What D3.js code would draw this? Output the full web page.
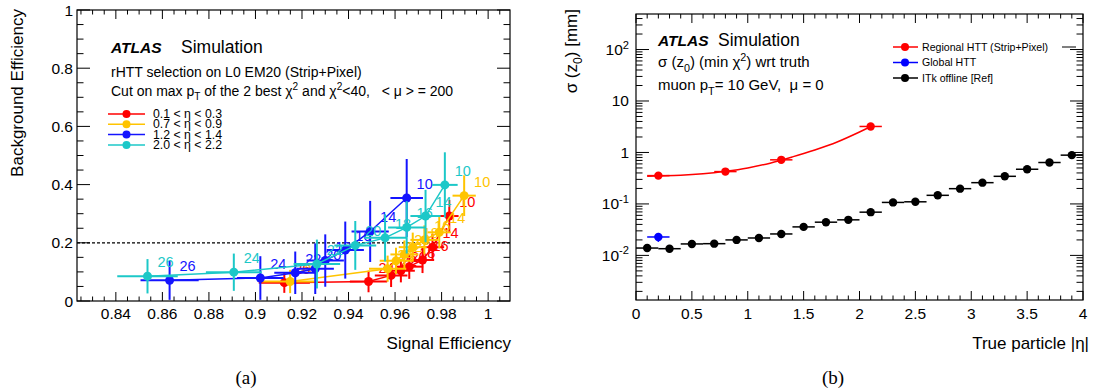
<!DOCTYPE html>
<html>
<head>
<meta charset="utf-8">
<script src="https://cdn.jsdelivr.net/npm/d3@7"></script>
<style>
  body { margin: 0; background: #fff; }
  svg { display: block; font-family: "Liberation Sans", Arial, Helvetica, sans-serif; }
  text { white-space: pre; }
</style>
</head>
<body>
<svg id="chart" width="1097" height="391"></svg>
<script>
// ---- panel (a): background vs signal efficiency, one point per chi2 cut ----
const chi2Cuts = [10, 14, 16, 18, 20, 22, 24, 26];
const etaBinLabels = ["0.1 < η < 0.3", "0.7 < η < 0.9", "1.2 < η < 1.4", "2.0 < η < 2.2"];

const sigEffRed = [0.9833, 0.9761, 0.9718, 0.9661, 0.9625, 0.9583, 0.9486, 0.9124];
const bkgEffRed = [0.292, 0.185, 0.141, 0.118, 0.104, 0.088, 0.067, 0.063];
const sigErrRed = [0.004, 0.005, 0.005, 0.006, 0.006, 0.007, 0.008, 0.011];
const bkgErrRed = [0.055, 0.045, 0.045, 0.042, 0.040, 0.040, 0.037, 0.035];

const sigEffOrange = [0.9897, 0.9790, 0.9726, 0.9676, 0.9640, 0.9604, 0.9568, 0.9149];
const bkgEffOrange = [0.362, 0.236, 0.210, 0.185, 0.160, 0.138, 0.111, 0.067];
const sigErrOrange = [0.005, 0.005, 0.006, 0.006, 0.006, 0.007, 0.008, 0.012];
const bkgErrOrange = [0.070, 0.055, 0.050, 0.050, 0.048, 0.045, 0.045, 0.040];

const sigEffBlue = [0.9650, 0.9493, 0.9386, 0.9300, 0.9257, 0.9171, 0.9021, 0.8631];
const bkgEffBlue = [0.354, 0.239, 0.175, 0.139, 0.111, 0.097, 0.079, 0.071];
const sigErrBlue = [0.007, 0.008, 0.008, 0.008, 0.008, 0.009, 0.010, 0.0125];
const bkgErrBlue = [0.134, 0.105, 0.098, 0.090, 0.087, 0.073, 0.075, 0.067];

const sigEffCyan = [0.9814, 0.9731, 0.9650, 0.9557, 0.9429, 0.9264, 0.8907, 0.8536];
const bkgEffCyan = [0.399, 0.292, 0.253, 0.217, 0.191, 0.127, 0.099, 0.085];
const sigErrCyan = [0.0055, 0.0065, 0.008, 0.009, 0.009, 0.010, 0.012, 0.013];
const bkgErrCyan = [0.112, 0.090, 0.090, 0.081, 0.084, 0.084, 0.064, 0.059];

const xTicksA = [0.84, 0.86, 0.88, 0.9, 0.92, 0.94, 0.96, 0.98, 1];
const yTicksA = [0, 0.2, 0.4, 0.6, 0.8, 1];

// ---- panel (b): sigma(z0) vs |eta| ----
const etaItk = [0.1, 0.3, 0.5, 0.7, 0.9, 1.1, 1.3, 1.5, 1.7, 1.9, 2.1, 2.3, 2.5, 2.7, 2.9, 3.1, 3.3, 3.5, 3.7, 3.9];
const sigmaItk = [0.0139, 0.0135, 0.0167, 0.0169, 0.0200, 0.0218, 0.0261, 0.0358, 0.0442, 0.0491,
                  0.0692, 0.107, 0.110, 0.147, 0.198, 0.259, 0.344, 0.472, 0.638, 0.887];
const etaRegional = [0.2, 0.8, 1.3, 2.1];
const sigmaRegional = [0.355, 0.425, 0.719, 3.2];
const sigmaErrRegional = [0.02, 0.025, 0.04, 0.2];
const etaGlobal = [0.2];
const sigmaGlobal = [0.0228];
const sigmaErrGlobal = [0.0045];
// fitted curve through the regional points
const fitEta = [0.1, 0.2, 0.4, 0.6, 0.8, 1.0, 1.2, 1.4, 1.6, 1.8, 2.0, 2.1];
const fitSigma = [0.345, 0.35, 0.36, 0.385, 0.43, 0.5, 0.62, 0.82, 1.12, 1.6, 2.5, 3.2];
const etaHalfBin = 0.1;

const xTicksB = [0, 0.5, 1, 1.5, 2, 2.5, 3, 3.5, 4];
const yExpB = [-2, -1, 0, 1, 2];

const svg = d3.select("#chart");
svg.append("rect").attr("width", 1097).attr("height", 391).attr("fill", "#fff");

// small helper for text with sub/superscripts
function rich(sel, parts, size) {
    let shift = 0;
    parts.forEach(([t, k]) => {
        const target = k === "sup" ? -0.42 * size : k === "sub" ? 0.32 * size : 0;
        sel.append("tspan")
            .attr("dy", target - shift)
            .attr("font-size", k === "n" ? size : size * 0.72)
            .text(t);
        shift = target;
    });
    return sel;
}

function frame(g, x, y, xMajor, xMinor, yMajor, yMinor, tl) {
    const [x0, x1] = x.range();
    const [y0, y1] = y.range();
    g.append("rect").attr("x", x0).attr("y", y1).attr("width", x1 - x0).attr("height", y0 - y1)
        .attr("fill", "none").attr("stroke", "#000").attr("stroke-width", 1.2);
    const tk = g.append("g").attr("stroke", "#000").attr("stroke-width", 1);
    const xt = xMajor.map(v => [v, tl.xMaj]).concat(xMinor.map(v => [v, tl.xMin]));
    xt.forEach(([v, l]) => {
        tk.append("line").attr("x1", x(v)).attr("x2", x(v)).attr("y1", y0).attr("y2", y0 - l);
        tk.append("line").attr("x1", x(v)).attr("x2", x(v)).attr("y1", y1).attr("y2", y1 + l);
    });
    const yt = yMajor.map(v => [v, tl.yMaj]).concat(yMinor.map(v => [v, tl.yMin]));
    yt.forEach(([v, l]) => {
        tk.append("line").attr("y1", y(v)).attr("y2", y(v)).attr("x1", x0).attr("x2", x0 + l);
        tk.append("line").attr("y1", y(v)).attr("y2", y(v)).attr("x1", x1).attr("x2", x1 - l);
    });
}

function atlasLabel(g, x, y, gap) {
    g.append("text").attr("x", x).attr("y", y).attr("font-size", 15.5)
        .attr("font-weight", "bold").attr("font-style", "italic").text("ATLAS");
    g.append("text").attr("x", x + gap).attr("y", y).attr("font-size", 17.5).text("Simulation");
}

// ================= panel (a) =================
const xA = d3.scaleLinear().domain([0.8233, 1.0094]).range([77, 510]);
const yA = d3.scaleLinear().domain([0, 1]).range([301, 10]);
const gA = svg.append("g");

const xMinorA = d3.range(0.825, 1.0094, 0.005).filter(v => !xTicksA.some(t => Math.abs(t - v) < 1e-6));
const yMinorA = d3.range(0.05, 1, 0.05).filter(v => !yTicksA.some(t => Math.abs(t - v) < 1e-6));

// dashed reference line at 0.2
gA.append("line").attr("x1", xA.range()[0]).attr("x2", xA.range()[1])
    .attr("y1", yA(0.2)).attr("y2", yA(0.2))
    .attr("stroke", "#000").attr("stroke-width", 1.2).attr("stroke-dasharray", "3,2");

const seriesA = [
    { color: "#ff0000", sig: sigEffRed, bkg: bkgEffRed, se: sigErrRed, be: bkgErrRed },
    { color: "#ffc400", sig: sigEffOrange, bkg: bkgEffOrange, se: sigErrOrange, be: bkgErrOrange },
    { color: "#1414ff", sig: sigEffBlue, bkg: bkgEffBlue, se: sigErrBlue, be: bkgErrBlue },
    { color: "#1cc8c8", sig: sigEffCyan, bkg: bkgEffCyan, se: sigErrCyan, be: bkgErrCyan }
];

svg.append("defs").append("clipPath").attr("id", "clipA")
    .append("rect").attr("x", 77).attr("y", 10).attr("width", 433).attr("height", 291);

seriesA.forEach(s => {
    const pts = chi2Cuts.map((c, i) => ({ c, x: s.sig[i], y: s.bkg[i], ex: s.se[i], ey: s.be[i] }));
    const g = gA.append("g").attr("clip-path", "url(#clipA)");
    g.append("path").datum(pts)
        .attr("d", d3.line().x(d => xA(d.x)).y(d => yA(d.y)))
        .attr("fill", "none").attr("stroke", s.color).attr("stroke-width", 1.5);
    g.selectAll(".ex").data(pts).enter().append("line")
        .attr("x1", d => xA(d.x - d.ex)).attr("x2", d => xA(d.x + d.ex))
        .attr("y1", d => yA(d.y)).attr("y2", d => yA(d.y))
        .attr("stroke", s.color).attr("stroke-width", 2);
    g.selectAll(".ey").data(pts).enter().append("line")
        .attr("x1", d => xA(d.x)).attr("x2", d => xA(d.x))
        .attr("y1", d => yA(d.y - d.ey)).attr("y2", d => yA(d.y + d.ey))
        .attr("stroke", s.color).attr("stroke-width", 2);
    g.selectAll("circle").data(pts).enter().append("circle")
        .attr("cx", d => xA(d.x)).attr("cy", d => yA(d.y)).attr("r", 4.5).attr("fill", s.color);
    g.selectAll("text").data(pts).enter().append("text")
        .attr("x", d => xA(d.x) + 18).attr("y", d => yA(d.y) - 9)
        .attr("text-anchor", "middle").attr("font-size", 14.5).attr("fill", s.color)
        .text(d => d.c);
});

frame(gA, xA, yA, xTicksA, xMinorA, yTicksA, yMinorA, { xMaj: 9, xMin: 4.5, yMaj: 13, yMin: 6.5 });

gA.selectAll(".xl").data(xTicksA).enter().append("text")
    .attr("x", d => xA(d)).attr("y", 319).attr("text-anchor", "middle").attr("font-size", 15.5)
    .text(d => d3.format("~g")(d));
gA.selectAll(".yl").data(yTicksA).enter().append("text")
    .attr("x", 73).attr("y", d => yA(d) + 5.5).attr("text-anchor", "end").attr("font-size", 15.5)
    .text(d => d3.format("~g")(d));

gA.append("text").attr("x", 511).attr("y", 349).attr("text-anchor", "end").attr("font-size", 17)
    .text("Signal Efficiency");
gA.append("text").attr("transform", "translate(23,9) rotate(-90)").attr("text-anchor", "end")
    .attr("font-size", 17).text("Background Efficiency");

// labels inside
atlasLabel(gA, 111, 53, 70);
gA.append("text").attr("x", 111).attr("y", 77).attr("font-size", 14)
    .text("rHTT selection on L0 EM20 (Strip+Pixel)");
rich(gA.append("text").attr("x", 111).attr("y", 96).attr("font-size", 14), [
    ["Cut on max p", "n"], ["T", "sub"], [" of the 2 best χ", "n"], ["2", "sup"],
    [" and χ", "n"], ["2", "sup"], ["<40,   < μ > = 200", "n"]
], 14);

// legend (a)
const legA = gA.append("g");
seriesA.forEach((s, i) => {
    const ly = 114 + i * 10.3;
    legA.append("line").attr("x1", 108).attr("x2", 145).attr("y1", ly).attr("y2", ly)
        .attr("stroke", s.color).attr("stroke-width", 1.5);
    legA.append("circle").attr("cx", 126.5).attr("cy", ly).attr("r", 4).attr("fill", s.color);
    legA.append("text").attr("x", 153).attr("y", ly + 4).attr("font-size", 12.3).text(etaBinLabels[i]);
});

svg.append("text").attr("x", 246).attr("y", 384).attr("text-anchor", "middle")
    .attr("font-family", "Liberation Serif, Times New Roman, serif").attr("font-size", 19).text("(a)");

// ================= panel (b) =================
const xB = d3.scaleLinear().domain([0, 4]).range([636, 1083]);
const yB = d3.scaleLog().domain([0.00136, 490]).range([300, 14]);
const gB = svg.append("g");

const xMinorB = d3.range(0.1, 4, 0.1).filter(v => !xTicksB.some(t => Math.abs(t - v) < 1e-6));
const yMajorB = yExpB.map(e => Math.pow(10, e));
const yMinorB = [];
d3.range(-3, 3).forEach(e => d3.range(2, 10).forEach(m => {
    const v = m * Math.pow(10, e);
    if (v > yB.domain()[0] && v < yB.domain()[1]) yMinorB.push(v);
}));

frame(gB, xB, yB, xTicksB, xMinorB, yMajorB, yMinorB, { xMaj: 9, xMin: 4.5, yMaj: 13, yMin: 6.5 });

gB.selectAll(".xl").data(xTicksB).enter().append("text")
    .attr("x", d => xB(d)).attr("y", 319).attr("text-anchor", "middle").attr("font-size", 15.5)
    .text(d => d3.format("~g")(d));
yExpB.forEach(e => {
    const t = gB.append("text").attr("x", 629).attr("y", yB(Math.pow(10, e)) + 5.5)
        .attr("text-anchor", "end").attr("font-size", 15.5);
    if (e === 0) t.text("1");
    else if (e === 1) t.text("10");
    else rich(t, [["10", "n"], [String(e), "sup"]], 15.5);
});

gB.append("text").attr("x", 1089).attr("y", 349).attr("text-anchor", "end").attr("font-size", 17)
    .text("True particle |η|");
rich(gB.append("text").attr("transform", "translate(577,9) rotate(-90)").attr("text-anchor", "end")
    .attr("font-size", 17), [["σ (z", "n"], ["0", "sub"], [") [mm]", "n"]], 17);

// itk offline
const itk = etaItk.map((e, i) => ({ e, s: sigmaItk[i] }));
gB.selectAll(".itkx").data(itk).enter().append("line")
    .attr("x1", d => xB(d.e - etaHalfBin)).attr("x2", d => xB(d.e + etaHalfBin))
    .attr("y1", d => yB(d.s)).attr("y2", d => yB(d.s))
    .attr("stroke", "#000").attr("stroke-width", 1.5);
gB.selectAll(".itkc").data(itk).enter().append("circle")
    .attr("cx", d => xB(d.e)).attr("cy", d => yB(d.s)).attr("r", 4.2).attr("fill", "#000");

// regional fit + points
gB.append("path").datum(fitEta.map((e, i) => [e, fitSigma[i]]))
    .attr("d", d3.line().x(d => xB(d[0])).y(d => yB(d[1])).curve(d3.curveCatmullRom))
    .attr("fill", "none").attr("stroke", "#ff0000").attr("stroke-width", 1.5);
const reg = etaRegional.map((e, i) => ({ e, s: sigmaRegional[i], es: sigmaErrRegional[i] }));
const glob = etaGlobal.map((e, i) => ({ e, s: sigmaGlobal[i], es: sigmaErrGlobal[i] }));
[[reg, "#ff0000"], [glob, "#0000ff"]].forEach(([pts, col]) => {
    const g = gB.append("g");
    g.selectAll(".x").data(pts).enter().append("line")
        .attr("x1", d => xB(d.e - etaHalfBin)).attr("x2", d => xB(d.e + etaHalfBin))
        .attr("y1", d => yB(d.s)).attr("y2", d => yB(d.s))
        .attr("stroke", col).attr("stroke-width", 1.5);
    g.selectAll(".y").data(pts).enter().append("line")
        .attr("x1", d => xB(d.e)).attr("x2", d => xB(d.e))
        .attr("y1", d => yB(d.s - d.es)).attr("y2", d => yB(d.s + d.es))
        .attr("stroke", col).attr("stroke-width", 1.5);
    g.selectAll("circle").data(pts).enter().append("circle")
        .attr("cx", d => xB(d.e)).attr("cy", d => yB(d.s)).attr("r", 4.2).attr("fill", col);
});

// texts (b)
atlasLabel(gB, 658, 46, 60);
rich(gB.append("text").attr("x", 658).attr("y", 67).attr("font-size", 15), [
    ["σ (z", "n"], ["0", "sub"], [") (min χ", "n"], ["2", "sup"], [") wrt truth", "n"]
], 15);
rich(gB.append("text").attr("x", 658).attr("y", 90).attr("font-size", 15), [
    ["muon p", "n"], ["T", "sub"], ["= 10 GeV,  μ = 0", "n"]
], 15);

// legend (b)
const legB = [["Regional HTT (Strip+Pixel)", "#ff0000"], ["Global HTT", "#0000ff"], ["ITk offline [Ref]", "#000"]];
legB.forEach(([lab, col], i) => {
    const ly = 47 + i * 15.5;
    gB.append("line").attr("x1", 893).attr("x2", 918).attr("y1", ly).attr("y2", ly)
        .attr("stroke", col).attr("stroke-width", 1.5);
    gB.append("circle").attr("cx", 905).attr("cy", ly).attr("r", 4).attr("fill", col);
    gB.append("text").attr("x", 922).attr("y", ly + 3.5).attr("font-size", 10.6).text(lab);
});
gB.append("line").attr("x1", 1062).attr("x2", 1076).attr("y1", 47).attr("y2", 47)
    .attr("stroke", "#000").attr("stroke-width", 1);

svg.append("text").attr("x", 833).attr("y", 384).attr("text-anchor", "middle")
    .attr("font-family", "Liberation Serif, Times New Roman, serif").attr("font-size", 19).text("(b)");
</script>
</body>
</html>
